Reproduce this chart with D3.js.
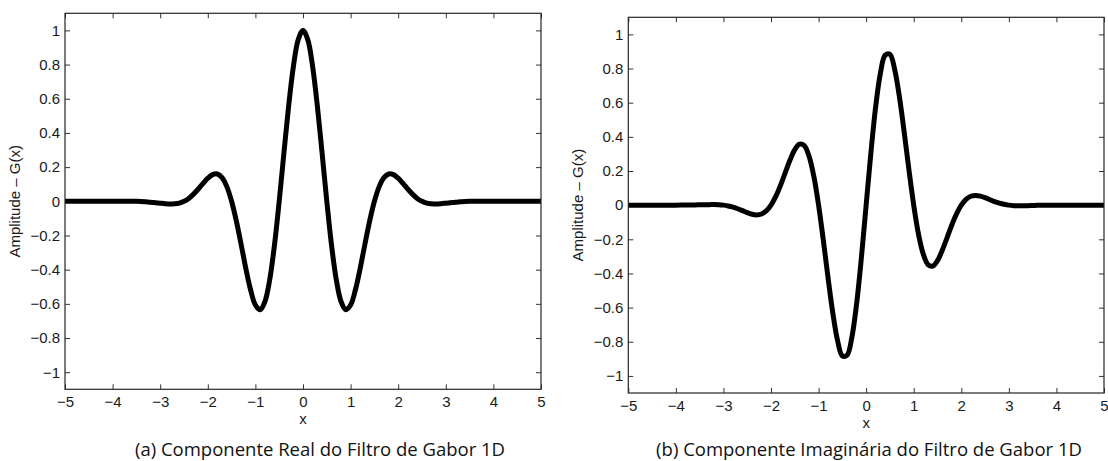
<!DOCTYPE html>
<html>
<head>
<meta charset="utf-8">
<script src="https://cdn.jsdelivr.net/npm/d3@7"></script>
<style>
	body { margin: 0; background: white; }
	svg { display: block; }
	.tick text { font-family: "Liberation Sans", Arial, sans-serif; font-size: 15px; fill: #1a1a1a; }
	.tick line { stroke: #333; }
	.axis-label { font-family: "Liberation Sans", Arial, sans-serif; font-size: 15px; fill: #1a1a1a; }
	.caption { font-family: "Open Sans", "Noto Sans", sans-serif; font-size: 18.5px; fill: #111; }
</style>
</head>
<body>
<svg id="chart" width="1108" height="461" viewBox="0 0 1108 461"></svg>
<script>

// sample positions along x
const X_VALUES = [-5, -4.5, -4, -3.6,
	-3.5, -3.4, -3.3, -3.2, -3.1, -3.0, -2.9, -2.8, -2.7, -2.6, -2.5, -2.4, -2.3, -2.2, -2.1, -2.0,
	-1.9, -1.8, -1.7, -1.6, -1.5, -1.4, -1.3, -1.2, -1.1, -1.0, -0.9, -0.8, -0.7, -0.6, -0.5, -0.4,
	-0.3, -0.2, -0.1, 0, 0.1, 0.2, 0.3, 0.4, 0.5, 0.6, 0.7, 0.8, 0.9, 1.0, 1.1, 1.2, 1.3, 1.4, 1.5,
	1.6, 1.7, 1.8, 1.9, 2.0, 2.1, 2.2, 2.3, 2.4, 2.5, 2.6, 2.7, 2.8, 2.9, 3.0, 3.1, 3.2, 3.3, 3.4, 3.5,
	3.6, 4, 4.5, 5];

// (a) real component
const REAL_VALUES = [0, 0, 0, 0,
	0, -0.001, -0.003, -0.005, -0.008, -0.011, -0.014, -0.016, -0.015, -0.011, 0, 0.017, 0.042, 0.072, 0.105, 0.135,
	0.156, 0.160, 0.139, 0.086, 0, -0.116, -0.252, -0.394, -0.519, -0.607, -0.634, -0.587, -0.460, -0.258, 0, 0.285,
	0.562, 0.793, 0.946, 1, 0.946, 0.793, 0.562, 0.285, 0, -0.258, -0.460, -0.587, -0.634, -0.607, -0.519, -0.394, -0.252, -0.116, 0,
	0.086, 0.139, 0.160, 0.156, 0.135, 0.105, 0.072, 0.042, 0.017, 0, -0.011, -0.015, -0.016, -0.014, -0.011, -0.008, -0.005, -0.003, -0.001, 0,
	0, 0, 0, 0];

// (b) imaginary component
const IMAG_VALUES = [0, 0, 0, 0.001,
	0.002, 0.003, 0.003, 0.004, 0.003, 0, -0.005, -0.012, -0.021, -0.032, -0.044, -0.053, -0.057, -0.052, -0.034, 0,
	0.051, 0.116, 0.191, 0.264, 0.325, 0.357, 0.348, 0.286, 0.169, 0, -0.206, -0.427, -0.633, -0.794, -0.883, -0.878,
	-0.773, -0.576, -0.307, 0, 0.307, 0.576, 0.773, 0.878, 0.883, 0.794, 0.633, 0.427, 0.206, 0, -0.169, -0.286, -0.348, -0.357, -0.325,
	-0.264, -0.191, -0.116, -0.051, 0, 0.034, 0.052, 0.057, 0.053, 0.044, 0.032, 0.021, 0.012, 0.005, 0, -0.003, -0.004, -0.003, -0.003, -0.002,
	-0.001, 0, 0, 0];

const X_TICKS = [-5, -4, -3, -2, -1, 0, 1, 2, 3, 4, 5];
const Y_TICKS = [-1, -0.8, -0.6, -0.4, -0.2, 0, 0.2, 0.4, 0.6, 0.8, 1];
const X_LABEL = 'x';
const Y_LABEL = 'Amplitude \u2013 G(x)';
const CAPTIONS = ['(a) Componente Real do Filtro de Gabor 1D', '(b) Componente Imaginária do Filtro de Gabor 1D'];

const svg = d3.select('#chart');

function drawPanel(box, values, caption) {
	const x_scale = d3.scaleLinear()
		.domain([-5, 5])
		.range([box.left, box.right]);

	const y_scale = d3.scaleLinear()
		.domain([-1.1, 1.1])
		.range([box.bottom, box.top]);

	const g = svg.append('g');
	const fmt = d3.format('.1~f');

	// MATLAB style inward ticks on all four sides
	g.append('g')
		.attr('transform', `translate(0,${box.bottom})`)
		.call(d3.axisBottom(x_scale).tickValues(X_TICKS).tickSizeInner(-5).tickSizeOuter(0).tickPadding(7).tickFormat(fmt))
		.call(a => a.select('.domain').remove());

	g.append('g')
		.attr('transform', `translate(0,${box.top})`)
		.call(d3.axisTop(x_scale).tickValues(X_TICKS).tickSizeInner(-5).tickSizeOuter(0).tickFormat(''))
		.call(a => a.select('.domain').remove());

	g.append('g')
		.attr('transform', `translate(${box.left},0)`)
		.call(d3.axisLeft(y_scale).tickValues(Y_TICKS).tickSizeInner(-5).tickSizeOuter(0).tickPadding(5).tickFormat(fmt))
		.call(a => a.select('.domain').remove());

	g.append('g')
		.attr('transform', `translate(${box.right},0)`)
		.call(d3.axisRight(y_scale).tickValues(Y_TICKS).tickSizeInner(-5).tickSizeOuter(0).tickFormat(''))
		.call(a => a.select('.domain').remove());

	// the curve
	const line = d3.line()
		.x((d, i) => x_scale(X_VALUES[i]))
		.y(d => y_scale(d))
		.curve(d3.curveCatmullRom.alpha(0.5));

	g.append('path')
		.datum(values)
		.attr('d', line)
		.attr('fill', 'none')
		.attr('stroke', '#000')
		.attr('stroke-width', 5)
		.attr('stroke-linejoin', 'round');

	// box
	g.append('rect')
		.attr('x', box.left)
		.attr('y', box.top)
		.attr('width', box.right - box.left)
		.attr('height', box.bottom - box.top)
		.attr('fill', 'none')
		.attr('stroke', '#262626')
		.attr('stroke-width', 1.2);

	g.append('text')
		.classed('axis-label', true)
		.attr('x', x_scale(0))
		.attr('y', box.bottom + 35)
		.attr('text-anchor', 'middle')
		.text(X_LABEL);

	g.append('text')
		.classed('axis-label', true)
		.attr('transform', `translate(${box.left - 45},${y_scale(0)}) rotate(-90)`)
		.attr('text-anchor', 'middle')
		.text(Y_LABEL);

	g.append('text')
		.classed('caption', true)
		.attr('x', box.caption_x)
		.attr('y', 456)
		.attr('text-anchor', 'middle')
		.text(caption);
}

drawPanel({left: 65, right: 541, top: 13.3, bottom: 389.3, caption_x: 320}, REAL_VALUES, CAPTIONS[0]);
drawPanel({left: 628.3, right: 1104, top: 17.3, bottom: 393, caption_x: 869}, IMAG_VALUES, CAPTIONS[1]);

</script>
</body>
</html>
